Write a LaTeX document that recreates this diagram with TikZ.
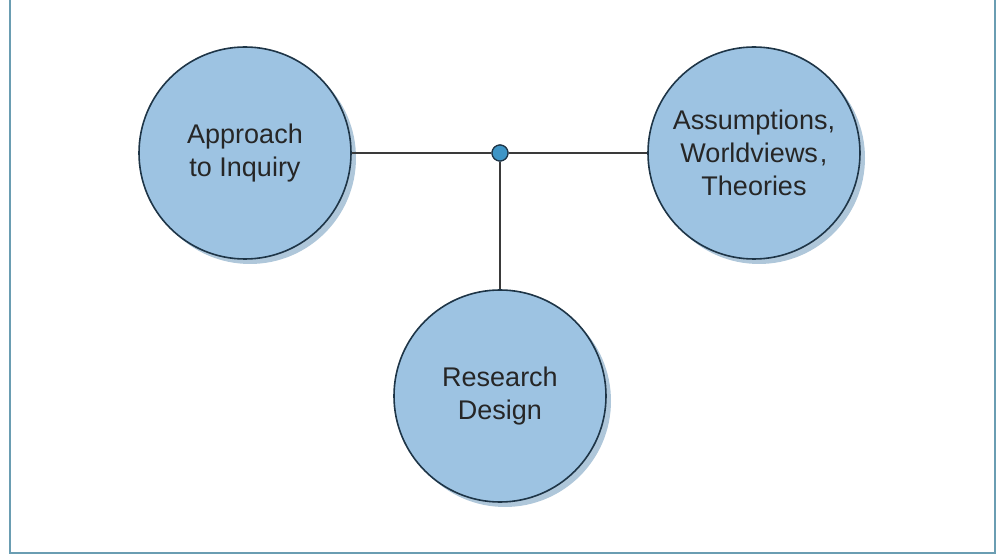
\documentclass[tikz,border=0pt]{standalone}
\usepackage{fontspec}
\setmainfont{Liberation Sans}
\usetikzlibrary{shadows}
\definecolor{circfill}{HTML}{9DC3E2}
\definecolor{circedge}{HTML}{1E3547}
\definecolor{shadowc}{HTML}{AFC7DA}
\definecolor{dotfill}{HTML}{3E95C6}
\definecolor{framec}{HTML}{6A9DB2}
\definecolor{linec}{HTML}{3A3A3A}
\tikzset{
  concept/.style={circle, minimum size=212pt, inner sep=0pt, draw=circedge,
    line width=1.6pt, fill=circfill, align=center,
    font=\fontsize{27pt}{33pt}\selectfont, text=black!85,
    drop shadow={shadow xshift=5pt, shadow yshift=-5pt, fill=shadowc, opacity=1}},
  hub/.style={circle, minimum size=16pt, inner sep=0pt, draw=circedge,
    line width=1.2pt, fill=dotfill},
  link/.style={draw=linec, line width=1.3pt},
  framebox/.style={draw=framec, line width=2.5pt}
}
\begin{document}
\begin{tikzpicture}[x=1pt,y=-1pt]
\useasboundingbox (0,0) rectangle (997,556);
\coordinate (fa) at (10,0);
\coordinate (fb) at (10,553);
\coordinate (fc) at (995,553);
\coordinate (fd) at (995,0);
\draw[framebox] (fa) -- (fb) -- (fc) -- (fd);
\node[concept] (ai) at (245,153) {Approach\\to Inquiry};
\node[concept] (aw) at (754,153) {Assumptions,\\Worldviews\kern2pt,\\Theories};
\node[concept] (rd) at (500,396) {Research\\Design};
\node[hub] (h) at (500,153) {};
\draw[link] (ai) -- (h);
\draw[link] (h) -- (aw);
\draw[link] (h) -- (rd);
\node[hub] at (h) {};
\end{tikzpicture}
\end{document}
